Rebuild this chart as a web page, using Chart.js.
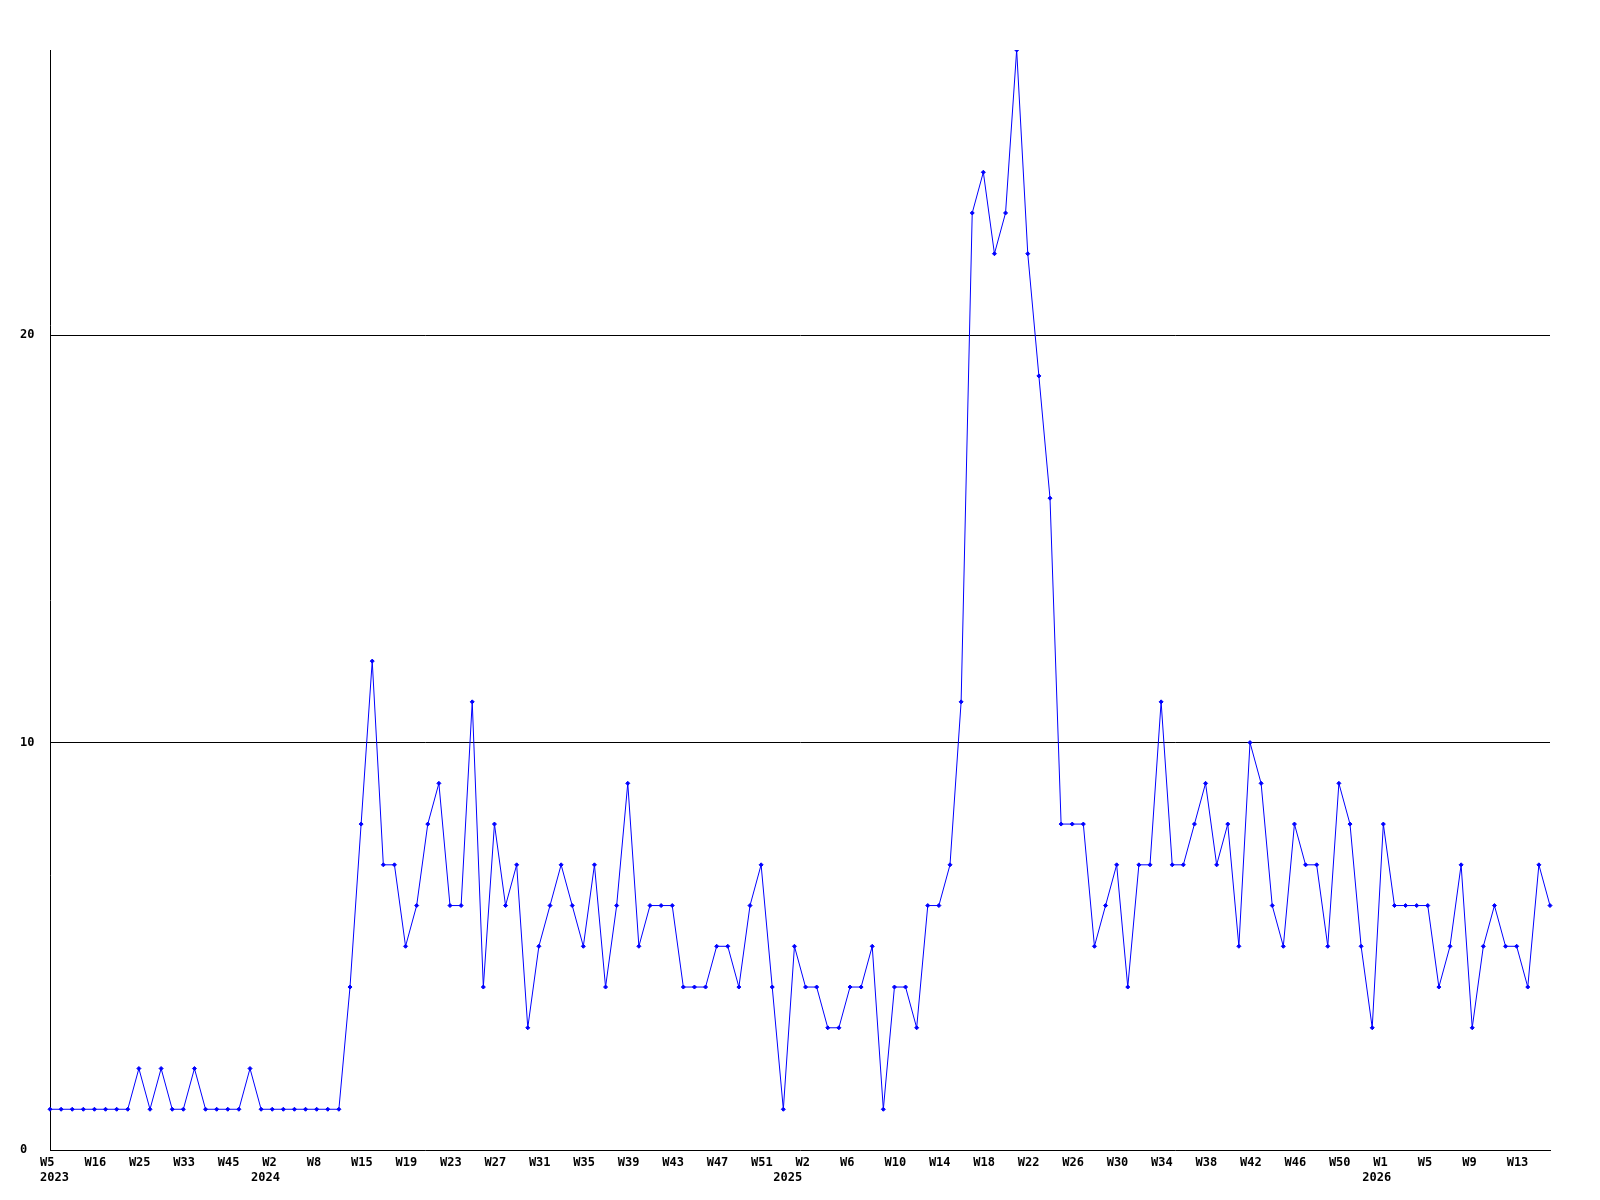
<!DOCTYPE html>
<html>
<head>
<meta charset="utf-8">
<script src="https://cdn.jsdelivr.net/npm/chart.js@4.4.1/dist/chart.umd.min.js"></script>
<style>
  html, body { margin: 0; padding: 0; background: #ffffff; }
  #wrap { width: 1600px; height: 1200px; }
</style>
</head>
<body>
<div id="wrap"><canvas id="c" width="1600" height="1200"></canvas></div>
<script>
// Weekly counts (one value per point)
const values = [
  1,1,1,1,1,1,1,1,2,1,2,1,1,2,1,1,1,1,2,1,
  1,1,1,1,1,1,1,4,8,12,7,7,5,6,8,9,6,6,11,4,
  8,6,7,3,5,6,7,6,5,7,4,6,9,5,6,6,6,4,4,4,
  5,5,4,6,7,4,1,5,4,4,3,3,4,4,5,1,4,4,3,6,
  6,7,11,23,24,22,23,27,22,19,16,8,8,8,5,6,7,4,7,7,
  11,7,7,8,9,7,8,5,10,9,6,5,8,7,7,5,9,8,5,3,
  8,6,6,6,6,4,5,7,3,5,6,5,5,4,7,6
];
// Week tick labels shown every 4th point
const tickWeeks = ['W5','W16','W25','W33','W45','W2','W8','W15','W19','W23','W27','W31','W35','W39','W43','W47','W51','W2','W6','W10','W14','W18','W22','W26','W30','W34','W38','W42','W46','W50','W1','W5','W9','W13'];
const tickEvery = 4;
// Year labels and the point at which each year starts
const years = ['2023', '2024', '2025', '2026'];
const yearStarts = [0, 19, 66, 119];
const yTicks = [0, 10, 20];
const yMax = 27;

const categories = values.map((v, i) => {
  let week = '';
  if (i % tickEvery === 0 && i / tickEvery < tickWeeks.length) week = tickWeeks[i / tickEvery];
  const yi = yearStarts.indexOf(i);
  if (yi >= 0) return [week, years[yi]];
  return week;
});

const font = { family: '"DejaVu Sans Mono", "Liberation Mono", monospace', size: 12, weight: 'bold', lineHeight: 1.25 };

new Chart(document.getElementById('c'), {
  type: 'line',
  data: {
    labels: categories,
    datasets: [{
      data: values,
      borderColor: '#0000ff',
      backgroundColor: '#0000ff',
      borderWidth: 1,
      tension: 0,
      fill: false,
      pointStyle: 'rectRot',
      pointRadius: 2,
      pointBorderWidth: 1,
      pointHoverRadius: 2
    }]
  },
  options: {
    responsive: false,
    animation: false,
    events: [],
    layout: { padding: { left: 20, right: 50, top: 50, bottom: 0 } },
    plugins: { legend: { display: false }, tooltip: { enabled: false }, title: { display: false } },
    scales: {
      x: {
        type: 'category',
        offset: false,
        grid: { display: false, drawTicks: false },
        border: { display: true, color: '#000000', width: 1 },
        ticks: {
          autoSkip: false,
          maxRotation: 0,
          minRotation: 0,
          align: 'start',
          labelOffset: -10,
          padding: 5,
          color: '#000000',
          font: font,
          callback: function (val, idx) {
            const l = categories[idx];
            return l === '' ? null : l;
          }
        },
        afterFit: function (scale) {
          scale.height = 50;
          scale.paddingLeft = 0;
          scale.paddingRight = 0;
        }
      },
      y: {
        min: 0,
        max: yMax,
        grid: {
          drawTicks: false,
          color: function (ctx) { return ctx.tick && ctx.tick.value === 0 ? 'rgba(0,0,0,0)' : '#000000'; },
          lineWidth: 1
        },
        border: { display: true, color: '#000000', width: 1 },
        afterBuildTicks: function (scale) {
          scale.ticks = yTicks.map(v => ({ value: v }));
        },
        ticks: {
          crossAlign: 'far',
          padding: 0,
          color: '#000000',
          font: font,
          callback: function (v) { return String(v); }
        },
        afterFit: function (scale) {
          scale.width = 30;
          scale.paddingTop = 0;
          scale.paddingBottom = 0;
        }
      }
    }
  }
});
</script>
</body>
</html>
